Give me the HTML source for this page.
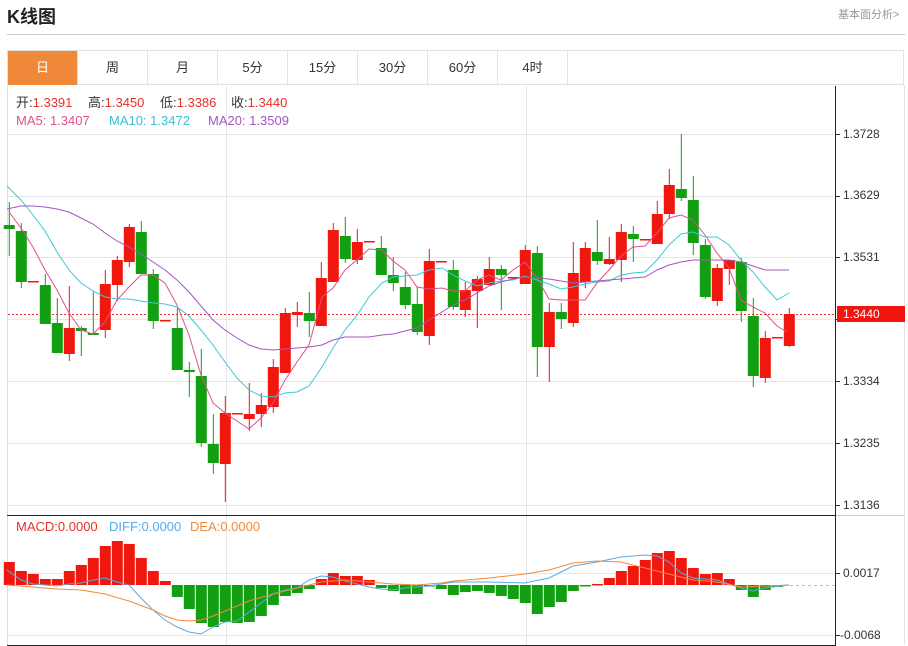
<!DOCTYPE html>
<html><head><meta charset="utf-8">
<style>
body{margin:0;width:908px;height:646px;background:#fff;position:relative;overflow:hidden;font-family:"Liberation Sans","Noto Sans CJK SC",sans-serif}
.t{position:absolute;white-space:nowrap}
.g{position:absolute;white-space:nowrap;font-size:13px;line-height:16px}
.r{color:#e8302a}
.tabs{position:absolute;left:7px;top:50px;width:897px;height:35px;border:1px solid #e2e2e2;box-sizing:border-box}
.tab{position:absolute;top:0;width:70px;height:34px;line-height:34px;text-align:center;font-size:13px;color:#333;border-right:1px solid #e2e2e2;box-sizing:border-box}
</style></head><body>
<div class="t" style="left:7px;top:3px;font-size:18px;font-weight:bold;color:#222">K线图</div>
<div class="t" style="left:838px;top:6px;font-size:11px;color:#999">基本面分析&gt;</div>
<div style="position:absolute;left:7px;top:34px;width:898px;height:1px;background:#ccc"></div>
<div class="tabs">
<div class="tab" style="left:0;background:#f0883a;color:#fff">日</div>
<div class="tab" style="left:70px">周</div>
<div class="tab" style="left:140px">月</div>
<div class="tab" style="left:210px">5分</div>
<div class="tab" style="left:280px">15分</div>
<div class="tab" style="left:350px">30分</div>
<div class="tab" style="left:420px">60分</div>
<div class="tab" style="left:490px">4时</div>
</div>
<svg id="s" width="908" height="646" style="position:absolute;left:0;top:0"></svg>
<div class="g" style="left:16px;top:95px;color:#333">开:<span class="r">1.3391</span></div>
<div class="g" style="left:88px;top:95px;color:#333">高:<span class="r">1.3450</span></div>
<div class="g" style="left:160px;top:95px;color:#333">低:<span class="r">1.3386</span></div>
<div class="g" style="left:231px;top:95px;color:#333">收:<span class="r">1.3440</span></div>
<div class="g" style="left:16px;top:113px;color:#e0508a">MA5: 1.3407</div>
<div class="g" style="left:109px;top:113px;color:#3cbfd0">MA10: 1.3472</div>
<div class="g" style="left:208px;top:113px;color:#a455c2">MA20: 1.3509</div>
<div class="g" style="left:16px;top:519px;color:#e8302a">MACD:0.0000</div>
<div class="g" style="left:109px;top:519px;color:#5aa9e6">DIFF:0.0000</div>
<div class="g" style="left:190px;top:519px;color:#f08a3c">DEA:0.0000</div>
<div class="t" style="left:843px;top:127px;font-size:12px;color:#333">1.3728</div>
<div class="t" style="left:843px;top:188px;font-size:12px;color:#333">1.3629</div>
<div class="t" style="left:843px;top:250px;font-size:12px;color:#333">1.3531</div>
<div class="t" style="left:843px;top:374px;font-size:12px;color:#333">1.3334</div>
<div class="t" style="left:843px;top:436px;font-size:12px;color:#333">1.3235</div>
<div class="t" style="left:843px;top:498px;font-size:12px;color:#333">1.3136</div>
<div class="t" style="left:843px;top:566px;font-size:12px;color:#333">0.0017</div>
<div class="t" style="left:840px;top:628px;font-size:12px;color:#333">-0.0068</div>
<div style="position:absolute;left:837px;top:306px;width:68px;height:16px;background:#f0160e"></div>
<div class="t" style="left:843px;top:307px;font-size:12px;color:#fff">1.3440</div>
<script>
var s=document.getElementById('s'),h='';
function L(x1,y1,x2,y2,c,w,d){h+='<line x1="'+x1+'" y1="'+y1+'" x2="'+x2+'" y2="'+y2+'" stroke="'+c+'" stroke-width="'+(w||1)+'"'+(d?' stroke-dasharray="'+d+'"':'')+'/>';}
[134,196,257,319,381,443,505,573,635].forEach(function(y){L(8,y+.5,835,y+.5,'#e6e6e6');L(835,y+.5,840,y+.5,'#333');});
[226,526].forEach(function(x){L(x+.5,86,x+.5,645,'#e6e6e6');});
L(7.5,86,7.5,645,'#ddd');
L(835.5,86,835.5,646,'#222');
L(7,515.5,836,515.5,'#222');L(836,515.5,905,515.5,'#ccc');
L(7,645.5,836,645.5,'#222');
L(904.5,86,904.5,645,'#e2e2e2');
L(8,314.5,835,314.5,'#e8302a',1,'2,2');
var C=[[0,225,229,202,256],[0,231,282,223,288],[1,281,282,281,282],[0,285,324,274,324],[0,323,353,298,353],[1,328,354,286,361],[0,328,331,326,356],[0,333,335,292,335],[1,284,330,270,338],[1,260,285,256,301],[1,227,262,224,267],[0,232,274,221,274],[0,274,321,269,329],[1,320,321,320,321],[0,328,370,308,370],[0,370,372,362,397],[0,376,443,349,447],[0,444,463,414,474],[1,413,464,396,502],[1,413,414,413,414],[1,414,419,383,431],[1,405,414,393,427],[1,367,407,359,413],[1,313,373,308,373],[1,312,315,302,327],[0,313,321,292,337],[1,278,326,262,326],[1,230,282,223,282],[0,236,259,217,263],[1,242,260,229,264],[1,241,242,241,242],[0,248,275,236,275],[0,275,283,257,291],[0,287,305,272,309],[0,304,332,287,335],[1,261,336,249,345],[1,261,262,261,262],[0,270,307,260,310],[1,290,310,282,317],[1,279,291,276,328],[1,269,285,257,285],[0,269,275,265,310],[1,277,278,277,278],[1,250,284,245,284],[0,253,347,246,377],[1,312,347,303,382],[0,312,319,303,329],[1,273,323,242,327],[1,248,282,242,288],[0,252,261,220,265],[1,259,264,237,265],[1,232,260,224,282],[0,234,239,226,262],[1,239,240,239,240],[1,214,244,201,244],[1,185,214,169,219],[0,189,198,134,201],[0,200,243,176,255],[0,245,297,239,299],[1,268,301,264,306],[1,260,269,260,285],[0,262,311,258,322],[0,316,376,298,387],[1,338,378,331,383],[1,337,338,337,338],[1,314,346,308,347]];
C.forEach(function(c,i){var x=9.3+12*i,col=c[0]?'#f0180e':'#12a012';
L(x,c[3],x,c[4],col);
var ht=Math.max(c[2]-c[1],1.5);h+='<rect x="'+(x-5.5)+'" y="'+c[1]+'" width="11" height="'+ht+'" fill="'+col+'"/>';});
function P(pts,c){h+='<polyline fill="none" stroke="'+c+'" stroke-width="1" points="'+pts+'"/>';}
P('9,212 21,228 33,247 45,270 57,290 69,313 81,330 93,334 105,322 117,300 129,287 141,275 153,275 165,283 177,305 189,335 201,375 213,403 225,413 237,421 249,429 261,418 273,403 285,380 297,362 309,345 322,297 333,288 345,270 358,259 369,249 382,250 393,261 405,270 417,287 429,289 442,288 453,291 465,291 477,280 489,275 501,280 513,270 525,262 537,278 549,299 561,300 573,300 585,300 597,283 609,270 621,256 633,247 645,246 657,233 669,218 681,215 693,220 705,235 717,253 729,268 741,300 753,307 765,313 777,326 787,332','#e0508a');
P('7,186 21,200 33,215 45,231 57,252 69,270 81,283 93,291 105,297 117,299 129,299 141,301 153,303 165,304 177,307 189,316 201,330 213,345 225,362 237,378 249,390 261,396 273,397 285,393 297,392 309,386 322,367 333,348 345,330 358,314 369,297 382,283 393,277 405,276 417,275 429,270 442,268 453,275 465,281 477,286 489,283 501,281 513,280 525,276 537,280 549,284 561,289 573,287 585,284 597,282 609,281 621,275 633,273 645,272 657,260 669,245 681,234 693,232 705,237 717,237 729,245 741,260 753,272 765,287 777,300 789,293','#3cc8d8');
P('7,209 21,206 33,206 45,207 57,209 69,212 81,218 93,224 105,233 117,241 129,247 141,254 153,262 165,270 177,280 189,292 201,306 213,320 225,330 237,338 249,345 261,349 273,350 285,349 297,348 309,347 322,345 333,340 345,337 358,337 369,337 382,335 393,334 405,331 417,328 429,320 442,312 453,305 465,300 477,293 489,286 501,282 513,279 525,277 537,278 549,279 561,281 573,283 585,282 597,281 609,280 621,279 633,278 645,277 657,270 669,265 681,262 693,260 705,260 717,260 729,260 741,262 753,266 765,270 777,270 789,270','#a455c2');
var M=[562,571,574,579,579,571,565,558,546,541,544,558,571,581,597,609,623,627,622,623,622,616,605,596,593,589,579,573,576,576,580,588,591,594,594,586,589,595,592,591,593,596,599,603,614,607,602,591,586,584,578,571,566,560,553,551,558,568,574,573,579,590,597,590,587];
L(790,585.5,835,585.5,'#9cc8e0',1,'3,3');
M.forEach(function(v,i){var x=9.3+12*i,col=v<585?'#f0180e':'#12a012';var y=Math.min(v,585),hh=Math.max(Math.abs(v-585),1.5);
h+='<rect x="'+(x-5.5)+'" y="'+y+'" width="11" height="'+hh+'" fill="'+col+'"/>';});
P('7,570 21,580 33,584 45,585 57,586 69,584 81,583 93,580 105,578 117,582 129,585 141,598 153,610 165,620 177,627 189,632 201,634 213,627 225,622 237,621 249,612 261,603 273,594 285,590 297,588 309,580 321,576 333,577 345,581 357,584 369,587 381,589 393,590 405,588 429,586 454,582 489,582 525,583 549,578 573,566 597,562 621,557 645,555 657,556 669,562 681,573 693,578 717,580 741,588 753,591 765,588 789,585','#5aa9e6');
P('7,585 33,587 57,589 81,590 105,594 129,601 153,610 165,616 177,620 189,621 201,620 213,616 225,611 249,601 273,594 297,588 321,582 345,580 369,582 393,584 417,585 441,583 454,581 489,578 525,574 549,570 573,563 597,561 621,562 645,568 669,574 693,580 717,582 741,587 765,586 789,585','#f08a3c');
s.innerHTML=h;
</script>
</body></html>
